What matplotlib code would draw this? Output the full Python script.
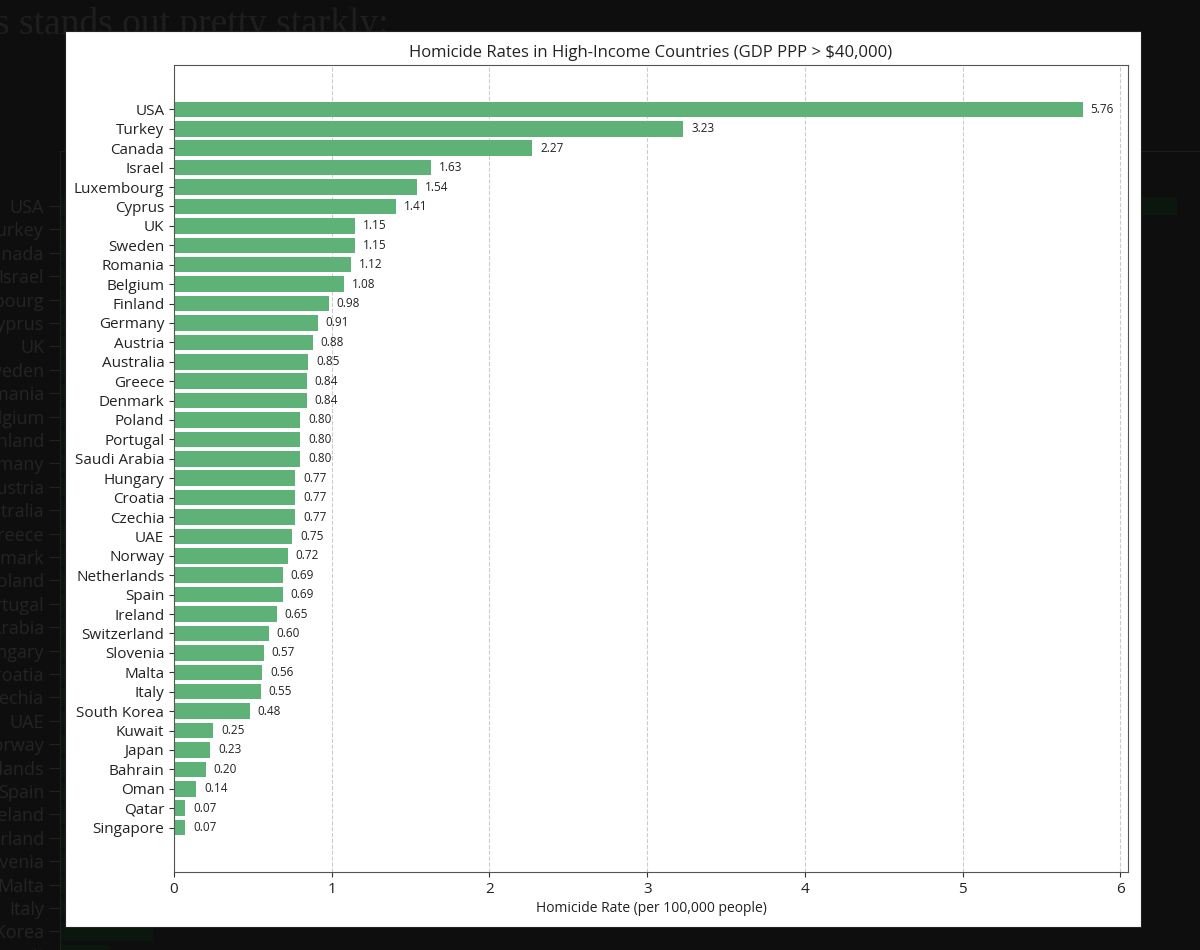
import matplotlib.pyplot as plt
from matplotlib.patches import Rectangle

countries = [
    "USA", "Turkey", "Canada", "Israel", "Luxembourg", "Cyprus", "UK", "Sweden",
    "Romania", "Belgium", "Finland", "Germany", "Austria", "Australia", "Greece",
    "Denmark", "Poland", "Portugal", "Saudi Arabia", "Hungary", "Croatia", "Czechia",
    "UAE", "Norway", "Netherlands", "Spain", "Ireland", "Switzerland", "Slovenia",
    "Malta", "Italy", "South Korea", "Kuwait", "Japan", "Bahrain", "Oman", "Qatar",
    "Singapore",
]
rates = [
    5.76, 3.23, 2.27, 1.63, 1.54, 1.41, 1.15, 1.15,
    1.12, 1.08, 0.98, 0.91, 0.88, 0.85, 0.84,
    0.84, 0.80, 0.80, 0.80, 0.77, 0.77, 0.77,
    0.75, 0.72, 0.69, 0.69, 0.65, 0.60, 0.57,
    0.56, 0.55, 0.48, 0.25, 0.23, 0.20, 0.14, 0.07,
    0.07,
]

TITLE = "Homicide Rates in High-Income Countries (GDP PPP > $40,000)"
XLABEL = "Homicide Rate (per 100,000 people)"
PAGE_TEXT = "s stands out pretty starkly:"
BAR_COLOR = "#5fb277"
FONT = ["Open Sans", "DejaVu Sans"]

W, H = 1200, 950
plt.rcParams["font.family"] = FONT


def px_rect(left, top, right, bottom):
    return [left / W, 1 - bottom / H, (right - left) / W, (bottom - top) / H]


fig = plt.figure(figsize=(W / 100, H / 100), dpi=100, facecolor="#0e0e0e")

# dimmed page behind the screenshot (partly hidden by the chart card)
fig.text(-0.004, 1 - 34 / H, PAGE_TEXT, family="Liberation Serif",
         fontsize=27, color="#1e1e1e", va="baseline", ha="left", zorder=0)

bg = fig.add_axes(px_rect(60, 151, 1188 + 230, 1142), zorder=0)
bg.set_facecolor("#0e0e0e")
bg.barh(countries, rates, color="#0b170e", height=0.8)
bg.set_ylim(40, -2.35)
bg.set_xlim(0, 7.0)
bg.tick_params(axis="y", colors="#222222", labelcolor="#242424", labelsize=13, length=8)
bg.tick_params(axis="x", bottom=False, labelbottom=False)
for s in bg.spines.values():
    s.set_color("#1e1e1e")

# white card with the chart
fig.patches.append(Rectangle((65 / W, 1 - 927 / H), (1141 - 65) / W, (927 - 31) / H,
                             transform=fig.transFigure, facecolor="white",
                             edgecolor="#222222", linewidth=0.8, zorder=1))

ax = fig.add_axes(px_rect(174, 65, 1128, 872), zorder=2)
ax.barh(countries, rates, color=BAR_COLOR, height=0.8)
ax.invert_yaxis()
ax.set_axisbelow(True)
ax.grid(axis="x", linestyle="--", color="#cccccc", linewidth=0.8)
for y, v in enumerate(rates):
    ax.text(v + 0.05, y, f"{v:.2f}", va="center", ha="left", fontsize=8.5, color="#222222")

ax.set_title(TITLE, fontsize=12, color="#222222", pad=6)
ax.set_xlabel(XLABEL, fontsize=10, color="#222222", labelpad=3)
ax.tick_params(axis="y", labelsize=11, labelcolor="#222222", color="#333333")
ax.tick_params(axis="x", labelsize=11, labelcolor="#222222", color="#333333")
for s in ax.spines.values():
    s.set_color("#555555")

fig.savefig("out.png", dpi=100, facecolor=fig.get_facecolor())
